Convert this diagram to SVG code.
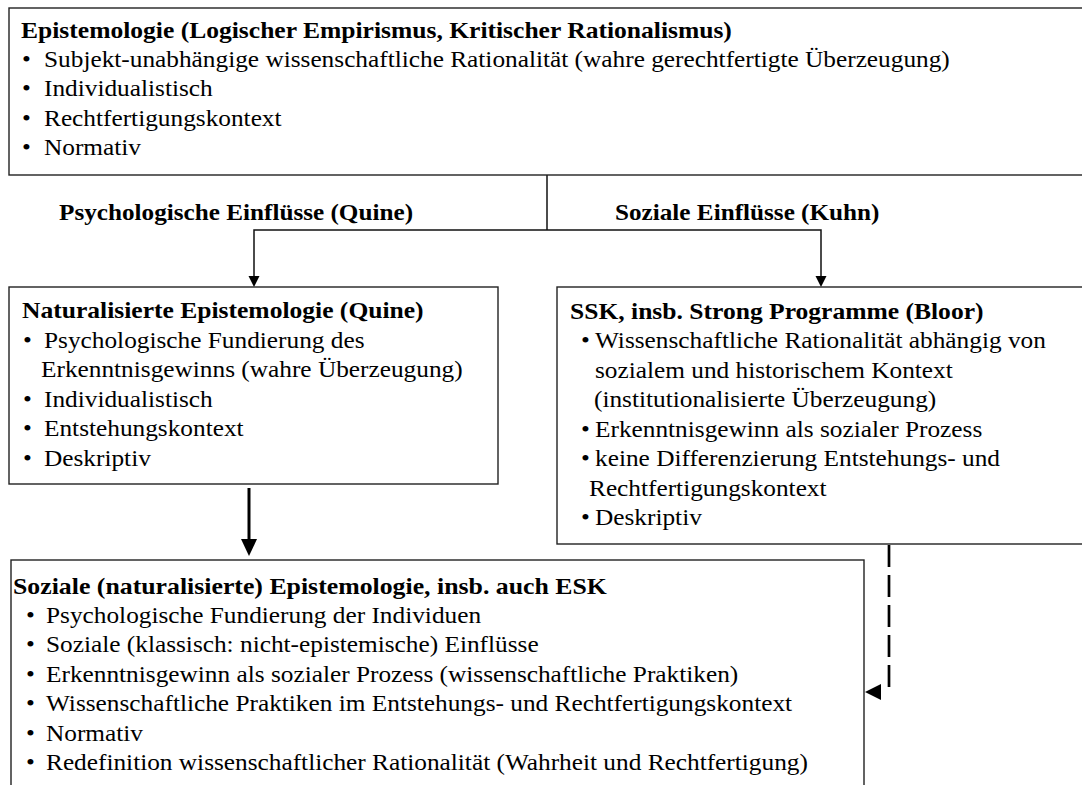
<svg xmlns="http://www.w3.org/2000/svg" width="1082" height="785" viewBox="0 0 1082 785">
<style>
.box{fill:#fff;stroke:#222;stroke-width:1.4}
.t{font-family:"Liberation Serif","Times New Roman",serif;font-size:24px;fill:#000}
.b{font-weight:bold}
.ln{fill:none;stroke:#111;stroke-width:1.5}
</style>
<rect width="1082" height="785" fill="#fff"/>
<g id="connectors">
<line class="ln" x1="547" y1="175" x2="547" y2="230"/>
<polyline class="ln" points="254,276 254,230 821,230 821,276"/>
<polygon points="248.5,276 259.5,276 254,287" fill="#000"/>
<polygon points="815.5,276 826.5,276 821,287" fill="#000"/>
<line x1="249" y1="488" x2="249" y2="541" stroke="#000" stroke-width="3"/>
<polygon points="241,539 257,539 249,556" fill="#000"/>
<line x1="889" y1="545" x2="889" y2="691" stroke="#000" stroke-width="2.7" stroke-dasharray="22 8"/>
<polygon points="865,692 881,684 881,700" fill="#000"/>
<text class="t b" transform="translate(59,220) scale(1.05,1)">Psychologische Einflüsse (Quine)</text>
<text class="t b" transform="translate(615,220) scale(1.05,1)">Soziale Einflüsse (Kuhn)</text>
</g>
<g id="n-epistemologie">
<rect class="box" x="9" y="8" width="1085" height="167"/>
<text class="t b" transform="translate(21,38) scale(1.065,1)">Epistemologie (Logischer Empirismus, Kritischer Rationalismus)</text>
<text class="t" transform="translate(22,66.5) scale(1.055,1)">•</text>
<text class="t" transform="translate(44,66.5) scale(1.055,1)">Subjekt-unabhängige wissenschaftliche Rationalität (wahre gerechtfertigte Überzeugung)</text>
<text class="t" transform="translate(22,96) scale(1.055,1)">•</text>
<text class="t" transform="translate(44,96) scale(1.055,1)">Individualistisch</text>
<text class="t" transform="translate(22,125.5) scale(1.055,1)">•</text>
<text class="t" transform="translate(44,125.5) scale(1.055,1)">Rechtfertigungskontext</text>
<text class="t" transform="translate(22,155) scale(1.055,1)">•</text>
<text class="t" transform="translate(44,155) scale(1.055,1)">Normativ</text>
</g>
<g id="n-naturalisiert">
<rect class="box" x="9" y="287" width="489" height="197"/>
<text class="t b" transform="translate(22,318) scale(1.065,1)">Naturalisierte Epistemologie (Quine)</text>
<text class="t" transform="translate(23,347.5) scale(1.055,1)">•</text>
<text class="t" transform="translate(44,347.5) scale(1.055,1)">Psychologische Fundierung des</text>
<text class="t" transform="translate(41,377) scale(1.055,1)">Erkenntnisgewinns (wahre Überzeugung)</text>
<text class="t" transform="translate(23,406.5) scale(1.055,1)">•</text>
<text class="t" transform="translate(44,406.5) scale(1.055,1)">Individualistisch</text>
<text class="t" transform="translate(23,436) scale(1.055,1)">•</text>
<text class="t" transform="translate(44,436) scale(1.055,1)">Entstehungskontext</text>
<text class="t" transform="translate(23,465.5) scale(1.055,1)">•</text>
<text class="t" transform="translate(44,465.5) scale(1.055,1)">Deskriptiv</text>
</g>
<g id="n-ssk">
<rect class="box" x="557" y="287" width="537" height="257"/>
<text class="t b" transform="translate(570,319) scale(1.065,1)">SSK, insb. Strong Programme (Bloor)</text>
<text class="t" transform="translate(581,348) scale(1.055,1)">•</text>
<text class="t" transform="translate(595,348) scale(1.055,1)">Wissenschaftliche Rationalität abhängig von</text>
<text class="t" transform="translate(595,377.5) scale(1.055,1)">sozialem und historischem Kontext</text>
<text class="t" transform="translate(594,407) scale(1.055,1)">(institutionalisierte Überzeugung)</text>
<text class="t" transform="translate(581,436.5) scale(1.055,1)">•</text>
<text class="t" transform="translate(595,436.5) scale(1.055,1)">Erkenntnisgewinn als sozialer Prozess</text>
<text class="t" transform="translate(581,466) scale(1.055,1)">•</text>
<text class="t" transform="translate(595,466) scale(1.055,1)">keine Differenzierung Entstehungs- und</text>
<text class="t" transform="translate(589,495.5) scale(1.055,1)">Rechtfertigungskontext</text>
<text class="t" transform="translate(581,525) scale(1.055,1)">•</text>
<text class="t" transform="translate(595,525) scale(1.055,1)">Deskriptiv</text>
</g>
<g id="n-sozial">
<rect class="box" x="11" y="560" width="853" height="240"/>
<text class="t b" transform="translate(13,594) scale(1.075,1)">Soziale (naturalisierte) Epistemologie, insb. auch ESK</text>
<text class="t" transform="translate(26,622.5) scale(1.055,1)">•</text>
<text class="t" transform="translate(46,622.5) scale(1.055,1)">Psychologische Fundierung der Individuen</text>
<text class="t" transform="translate(26,652) scale(1.055,1)">•</text>
<text class="t" transform="translate(46,652) scale(1.055,1)">Soziale (klassisch: nicht-epistemische) Einflüsse</text>
<text class="t" transform="translate(26,681.5) scale(1.055,1)">•</text>
<text class="t" transform="translate(46,681.5) scale(1.055,1)">Erkenntnisgewinn als sozialer Prozess (wissenschaftliche Praktiken)</text>
<text class="t" transform="translate(26,711) scale(1.055,1)">•</text>
<text class="t" transform="translate(46,711) scale(1.055,1)">Wissenschaftliche Praktiken im Entstehungs- und Rechtfertigungskontext</text>
<text class="t" transform="translate(26,740.5) scale(1.055,1)">•</text>
<text class="t" transform="translate(46,740.5) scale(1.055,1)">Normativ</text>
<text class="t" transform="translate(26,770) scale(1.055,1)">•</text>
<text class="t" transform="translate(46,770) scale(1.055,1)">Redefinition wissenschaftlicher Rationalität (Wahrheit und Rechtfertigung)</text>
</g>
</svg>
